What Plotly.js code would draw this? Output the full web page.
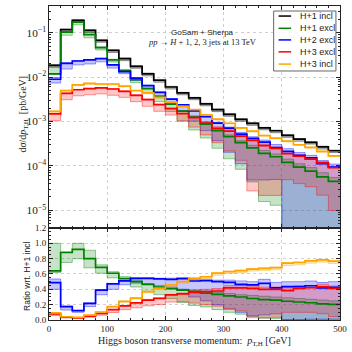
<!DOCTYPE html>
<html>
<head>
<meta charset="utf-8">
<script src="https://cdn.plot.ly/plotly-3.0.1.min.js"></script>
<style>
html, body { margin: 0; padding: 0; background: #fff; }
#chart { width: 352px; height: 352px; }
</style>
</head>
<body>
<div id="chart"></div>
<script>
// bin edges in GeV (20 GeV bins)
var binEdges = [0, 20, 40, 60, 80, 100, 120, 140, 160, 180, 200, 220, 240, 260, 280, 300,
                320, 340, 360, 380, 400, 420, 440, 460, 480, 500];

// H+1 incl
var h1Incl   = [0.0184, 0.117, 0.189, 0.113, 0.067, 0.040, 0.026, 0.0175, 0.0119, 0.0085, 0.0060, 0.0044, 0.0034,
                0.0025, 0.00185, 0.00145, 0.00112, 0.00091, 0.00072, 0.00062, 0.00049, 0.00040, 0.00034, 0.00027, 0.00022];
var h1InclLo = [0.0166, 0.106, 0.171, 0.102, 0.061, 0.036, 0.0235, 0.0158, 0.0107, 0.0077, 0.0054, 0.0040, 0.0031,
                0.00226, 0.00167, 0.00131, 0.00101, 0.00082, 0.00065, 0.00056, 0.00044, 0.00036, 0.00031, 0.00024, 0.0002];
var h1InclHi = [0.019, 0.12, 0.195, 0.116, 0.069, 0.041, 0.0268, 0.018, 0.0123, 0.0088, 0.0062, 0.00453, 0.0035,
                0.00258, 0.0019, 0.0015, 0.00115, 0.00094, 0.00074, 0.00064, 0.000505, 0.000412, 0.00035, 0.000278, 0.000227];

// H+1 excl
var h1Excl   = [0.0118, 0.103, 0.174, 0.0904, 0.046, 0.0244, 0.0140, 0.00875, 0.00553, 0.00366, 0.00246, 0.00172, 0.00126,
                0.000875, 0.00062, 0.000457, 0.000336, 0.000255, 0.000191, 0.000161, 0.00012, 0.000094, 0.0000765, 0.0000567, 0.0000451];
var h1ExclLo = [0.0114, 0.0878, 0.151, 0.0768, 0.0409, 0.022, 0.01326, 0.00753, 0.0044, 0.0028, 0.00168, 0.00101, 0.000646,
                0.000425, 0.00025, 0.000145, 0.000084, 0.0000437, 0.0000158, 0.000013, 0.000002, 0.000002, 0.000002, 0.000002, 0.000002];
var h1ExclHi = [0.0184, 0.104, 0.189, 0.1028, 0.0482, 0.0252, 0.0147, 0.0091, 0.00559, 0.00374, 0.00252, 0.00176, 0.001326,
                0.000938, 0.000666, 0.0005, 0.00037, 0.000291, 0.000223, 0.000186, 0.000142, 0.000112, 0.0000918, 0.0000702, 0.000055];

// H+2 excl
var h2Excl   = [0.00896, 0.0204, 0.0231, 0.0245, 0.0261, 0.0188, 0.01326, 0.0095, 0.00646, 0.00455, 0.00318, 0.00238, 0.00173,
                0.00128, 0.000925, 0.00071, 0.000521, 0.000416, 0.000344, 0.00026, 0.000213, 0.000174, 0.000152, 0.000113, 0.0000937];
var h2ExclLo = [0.00736, 0.0152, 0.0189, 0.0198, 0.0221, 0.016, 0.01196, 0.0084, 0.00559, 0.00383, 0.00258, 0.00176, 0.00102,
                0.000625, 0.00037, 0.000203, 0.000112, 0.0000482, 0.0000482, 0.0000496, 0.000002, 0.000002, 0.0000034, 0.0000027, 0.0000022];
var h2ExclHi = [0.00984, 0.0211, 0.0236, 0.0249, 0.0265, 0.019, 0.0134, 0.00963, 0.00655, 0.00463, 0.00327, 0.00242, 0.0018,
                0.001325, 0.000962, 0.000754, 0.000571, 0.000455, 0.000382, 0.000304, 0.000245, 0.0002, 0.000173, 0.000132, 0.00011];

// H+3 excl
var h3Excl   = [0.00148, 0.0043, 0.0052, 0.0055, 0.0057, 0.0054, 0.0048, 0.0039, 0.0031, 0.0024, 0.00196, 0.0015, 0.00122,
                0.000925, 0.0007, 0.000609, 0.00047, 0.000376, 0.000288, 0.000248, 0.000188, 0.000165, 0.000143, 0.000117, 0.0000909];
var h3ExclLo = [0.00105, 0.0031, 0.0038, 0.004, 0.0042, 0.0039, 0.0035, 0.0028, 0.0022, 0.0017, 0.0014, 0.00105, 0.00075,
                0.0005, 0.000333, 0.000218, 0.000134, 0.0000273, 0.0000216, 0.0000217, 0.000049, 0.00004, 0.000034, 0.000022, 0.0000099];
var h3ExclHi = [0.00152, 0.0044, 0.0053, 0.0056, 0.0058, 0.0055, 0.0049, 0.004, 0.0032, 0.00245, 0.002, 0.00155, 0.00133,
                0.001, 0.00076, 0.00065, 0.000504, 0.000405, 0.00031, 0.000267, 0.000206, 0.000178, 0.000153, 0.000126, 0.0000979];

// H+3 incl
var h3Incl   = [0.0017, 0.0050, 0.0067, 0.0072, 0.0070, 0.0070, 0.0063, 0.0050, 0.0044, 0.00351, 0.00274, 0.0022, 0.00185,
                0.00141, 0.00113, 0.000914, 0.00072, 0.000605, 0.000485, 0.000423, 0.000363, 0.0003, 0.000262, 0.000212, 0.000169];
var h3InclLo = [0.00163, 0.0048, 0.00643, 0.0069, 0.00672, 0.00672, 0.00605, 0.0048, 0.00422, 0.00337, 0.00263, 0.00211, 0.00178,
                0.00135, 0.00108, 0.000877, 0.00069, 0.000581, 0.000466, 0.000406, 0.000348, 0.000288, 0.000252, 0.000204, 0.000162];
var h3InclHi = [0.00172, 0.00505, 0.00677, 0.00727, 0.00707, 0.00707, 0.00636, 0.00505, 0.00444, 0.00355, 0.00277, 0.00222, 0.00187,
                0.00142, 0.00114, 0.000923, 0.000727, 0.000611, 0.00049, 0.000427, 0.000367, 0.000303, 0.000265, 0.000214, 0.000171];

var seriesNames = ["H+1 incl", "H+1 excl", "H+2 excl", "H+3 excl", "H+3 incl"];

var series = [
    {name: seriesNames[0], c: h1Incl, lo: h1InclLo, hi: h1InclHi, rgb: "0,0,0",     color: "#000000", inRatio: false},
    {name: seriesNames[1], c: h1Excl, lo: h1ExclLo, hi: h1ExclHi, rgb: "0,128,0",   color: "#008000", inRatio: true},
    {name: seriesNames[2], c: h2Excl, lo: h2ExclLo, hi: h2ExclHi, rgb: "0,0,255",   color: "#0000ff", inRatio: true},
    {name: seriesNames[3], c: h3Excl, lo: h3ExclLo, hi: h3ExclHi, rgb: "255,0,0",   color: "#ff0000", inRatio: true},
    {name: seriesNames[4], c: h3Incl, lo: h3InclLo, hi: h3InclHi, rgb: "255,165,0", color: "#ffa500", inRatio: true}
];

function step(v) { return v.concat([v[v.length - 1]]); }
function ratio(v) { return v.map(function (d, i) { return d / h1Incl[i]; }); }

function bandTraces(lo, hi, s, xa, ya) {
    var edge = {shape: "hv", width: 1, color: "rgba(" + s.rgb + ",0.4)"};
    return [
        {x: binEdges, y: step(lo), xaxis: xa, yaxis: ya, mode: "lines", line: edge,
         hoverinfo: "skip", showlegend: false},
        {x: binEdges, y: step(hi), xaxis: xa, yaxis: ya, mode: "lines", line: edge,
         fill: "tonexty", fillcolor: "rgba(" + s.rgb + ",0.22)", hoverinfo: "skip", showlegend: false}
    ];
}

var data = [];
// bands, top panel
series.forEach(function (s) { data = data.concat(bandTraces(s.lo, s.hi, s, "x2", "y")); });
// bands, ratio panel
series.forEach(function (s) {
    if (s.inRatio) data = data.concat(bandTraces(ratio(s.lo), ratio(s.hi), s, "x", "y2"));
});
// central lines
series.forEach(function (s) {
    data.push({x: binEdges, y: step(s.c), xaxis: "x2", yaxis: "y", mode: "lines", name: s.name,
               line: {shape: "hv", width: 1.7, color: s.color}, showlegend: false});
    if (s.inRatio) {
        data.push({x: binEdges, y: step(ratio(s.c)), xaxis: "x", yaxis: "y2", mode: "lines", name: s.name,
                   line: {shape: "hv", width: 1.7, color: s.color}, showlegend: false});
    }
});

var serif = "Liberation Serif, DejaVu Serif, serif";
var sans = "Liberation Sans, DejaVu Sans, sans-serif";
var axisCommon = {
    ticks: "inside", ticklen: 4, tickwidth: 1, tickcolor: "#222",
    showline: true, linecolor: "#222", linewidth: 1, mirror: "allticks",
    showgrid: true, gridcolor: "#c4c4c4", griddash: "dot", gridwidth: 0.8,
    zeroline: false, automargin: false,
    tickfont: {family: serif, size: 9, color: "#222"}
};
function ax(extra) { return Object.assign({}, axisCommon, extra); }

// legend drawn by hand (short line samples)
var legendY = [0.968, 0.929, 0.892, 0.854, 0.815];
var shapes = [{type: "rect", xref: "paper", yref: "paper", x0: 0.772, x1: 0.986, y0: 0.793, y1: 0.984,
               fillcolor: "rgba(255,255,255,0.85)", line: {color: "#666", width: 1}, layer: "above"}];
var annotations = [
    {xref: "paper", yref: "paper", x: 0.529, y: 0.917, showarrow: false, xanchor: "center", yanchor: "middle",
     text: "GoSam + Sherpa", font: {family: sans, size: 8, color: "#222"}},
    {xref: "paper", yref: "paper", x: 0.529, y: 0.885, showarrow: false, xanchor: "center", yanchor: "middle",
     text: "<i>pp</i> → <i>H</i> + 1, 2, 3 jets at 13 TeV", font: {family: serif, size: 8.5, color: "#222"}},
    // y titles
    {xref: "paper", yref: "paper", x: -0.089, y: 0.655, showarrow: false, xanchor: "center", yanchor: "middle",
     textangle: -90, text: "d<i>σ</i>/d<i>p</i><sub>T,H</sub>  [pb/GeV]", font: {family: serif, size: 10, color: "#222"}},
    {xref: "paper", yref: "paper", x: -0.076, y: 0.14, showarrow: false, xanchor: "center", yanchor: "middle",
     textangle: -90, text: "Ratio wrt. H+1 incl", font: {family: sans, size: 8.5, color: "#222"}}
];
series.forEach(function (s, i) {
    shapes.push({type: "line", xref: "paper", yref: "paper", x0: 0.789, x1: 0.832, y0: legendY[i], y1: legendY[i],
                 line: {color: s.color, width: 1.5}, layer: "above"});
    annotations.push({xref: "paper", yref: "paper", x: 0.855, y: legendY[i], xanchor: "left", yanchor: "middle",
                      showarrow: false, text: s.name, font: {family: sans, size: 9, color: "#222"}});
});

var layout = {
    width: 352, height: 352,
    margin: {l: 49, r: 12, t: 6, b: 32},
    paper_bgcolor: "#ffffff", plot_bgcolor: "#ffffff",
    showlegend: false,
    xaxis: ax({domain: [0, 1], anchor: "y2", range: [0, 500], tickvals: [0, 100, 200, 300, 400, 500],
               minor: {ticks: "inside", ticklen: 2, dtick: 20, tickcolor: "#222", showgrid: false},
               title: {text: "Higgs boson transverse momentum:  <i>p</i><sub>T,H</sub> [GeV]",
                       font: {family: serif, size: 10, color: "#222"}, standoff: 4}}),
    xaxis2: ax({domain: [0, 1], anchor: "y", matches: "x", range: [0, 500], tickvals: [0, 100, 200, 300, 400, 500],
                showticklabels: false,
                minor: {ticks: "inside", ticklen: 2, dtick: 20, tickcolor: "#222", showgrid: false}}),
    yaxis: ax({domain: [0.293, 1], anchor: "x2", type: "log", range: [Math.log10(4e-6), Math.log10(0.4)],
               dtick: 1, exponentformat: "power",
               minor: {ticks: "inside", ticklen: 2, dtick: "D1", tickcolor: "#222", showgrid: false}}),
    yaxis2: ax({domain: [0, 0.293], anchor: "x", range: [0, 1.2], dtick: 0.2, tickformat: ".1f",
                minor: {ticks: "inside", ticklen: 2, dtick: 0.05, tickcolor: "#222", showgrid: false}}),
    shapes: shapes,
    annotations: annotations
};

Plotly.newPlot("chart", data, layout, {staticPlot: true, displayModeBar: false});
</script>
</body>
</html>
